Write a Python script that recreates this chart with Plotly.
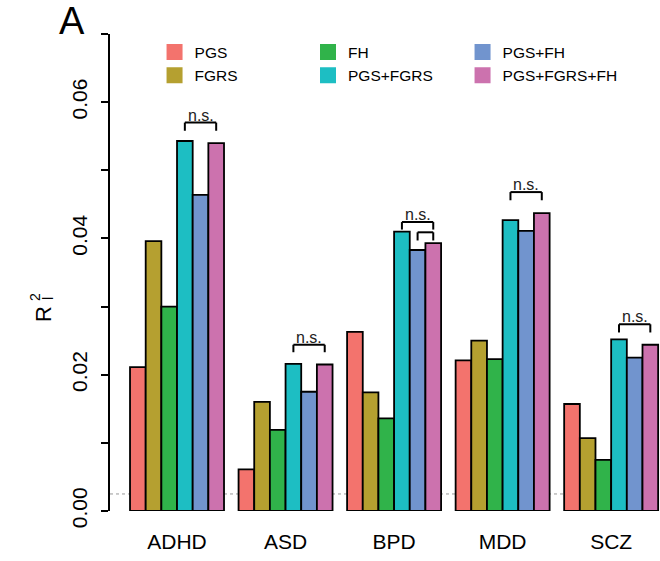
import plotly.graph_objects as go

categories = ["ADHD", "ASD", "BPD", "MDD", "SCZ"]
series_names = ["PGS", "FGRS", "FH", "PGS+FGRS", "PGS+FH", "PGS+FGRS+FH"]
pgs = [0.0211, 0.0061, 0.0263, 0.0221, 0.0157]
fgrs = [0.0396, 0.0160, 0.0174, 0.0250, 0.0107]
fh = [0.0300, 0.0119, 0.0136, 0.0223, 0.0075]
pgs_fgrs = [0.0543, 0.0216, 0.0410, 0.0427, 0.0252]
pgs_fh = [0.0464, 0.0175, 0.0383, 0.0411, 0.0225]
pgs_fgrs_fh = [0.0540, 0.0215, 0.0393, 0.0437, 0.0244]
series_values = [pgs, fgrs, fh, pgs_fgrs, pgs_fh, pgs_fgrs_fh]
colors = ["#F3736D", "#B5A030", "#30B34A", "#1DBEC3", "#7194CE", "#CC72AE"]
legend_column = ["legend", "legend", "legend2", "legend2", "legend3", "legend3"]

# significance brackets
bracket_cat = ["ADHD", "ASD", "BPD", "BPD", "MDD", "SCZ"]
bracket_from = [3, 3, 3, 4, 3, 3]
bracket_to = [5, 5, 5, 5, 5, 5]
bracket_top = [0.0570, 0.0244, 0.0424, 0.0409, 0.0468, 0.0274]
bracket_foot = [0.0558, 0.0233, 0.0413, 0.0397, 0.0456, 0.0262]
bracket_label = ["n.s.", "n.s.", "n.s.", "", "n.s.", "n.s."]

ref_line = 0.0025
y_tickvals = [0.00, 0.01, 0.02, 0.03, 0.04, 0.05, 0.06, 0.07]
y_ticktext = ["0.00", "", "0.02", "", "0.04", "", "0.06", ""]

FONT = "Liberation Sans, Arial, Helvetica, sans-serif"
BARGAP = 0.134
n_series = len(series_names)
bar_w = (1 - BARGAP) / n_series
xpos = list(range(len(categories)))

fig = go.Figure()
for name, vals, col in zip(series_names, series_values, colors):
    fig.add_trace(go.Bar(
        x=xpos, y=vals, name=name, showlegend=False,
        marker=dict(color=col, line=dict(color="black", width=1.8)),
    ))
for name, col, lg in zip(series_names, colors, legend_column):
    fig.add_trace(go.Scatter(
        x=[None], y=[None], mode="markers", name=name, legend=lg,
        marker=dict(symbol="square", size=16, color=col, line=dict(width=0)),
    ))


def bar_center(cat, j):
    return categories.index(cat) - (1 - BARGAP) / 2 + (j + 0.5) * bar_w


shapes = [dict(type="line", xref="paper", yref="y", x0=0, x1=1, y0=ref_line, y1=ref_line,
               line=dict(color="#999999", width=1, dash="dot"), layer="below")]
annotations = []
for cat, a, b, top, foot, lab in zip(bracket_cat, bracket_from, bracket_to,
                                     bracket_top, bracket_foot, bracket_label):
    x0 = bar_center(cat, a)
    x1 = bar_center(cat, b)
    ln = dict(color="black", width=2)
    shapes.append(dict(type="line", xref="x", yref="y", x0=x0, x1=x1, y0=top, y1=top, line=ln))
    shapes.append(dict(type="line", xref="x", yref="y", x0=x0, x1=x0, y0=foot, y1=top, line=ln))
    shapes.append(dict(type="line", xref="x", yref="y", x0=x1, x1=x1, y0=foot, y1=top, line=ln))
    if lab:
        annotations.append(dict(x=(x0 + x1) / 2, y=top, xref="x", yref="y", text=lab,
                                showarrow=False, yanchor="bottom", yshift=-3,
                                font=dict(family=FONT, size=16, color="#222222")))

# panel letter
annotations.append(dict(x=-0.07, y=1.027, xref="paper", yref="paper", text="A",
                        xanchor="center", yanchor="middle",
                        showarrow=False, font=dict(family=FONT, size=38, color="black")))
# y-axis title R^2_l (stacked super/subscript)
annotations.append(dict(x=(43 - 110) / 550, y=(511 - 314) / 477, xref="paper", yref="paper",
                        text="R", textangle=-90, showarrow=False,
                        xanchor="center", yanchor="middle",
                        font=dict(family=FONT, size=22, color="black")))
annotations.append(dict(x=(35 - 110) / 550, y=(511 - 297) / 477, xref="paper", yref="paper",
                        text="2", textangle=-90, showarrow=False,
                        xanchor="center", yanchor="middle",
                        font=dict(family=FONT, size=14, color="black")))
annotations.append(dict(x=(48 - 110) / 550, y=(511 - 299) / 477, xref="paper", yref="paper",
                        text="l", textangle=-90, showarrow=False,
                        xanchor="center", yanchor="middle",
                        font=dict(family=FONT, size=14, color="black")))


def legend_box(xpos_paper):
    return dict(orientation="v", x=xpos_paper, xanchor="left", y=0.997, yanchor="top",
                itemsizing="trace", tracegroupgap=0,
                font=dict(family=FONT, size=15.5, color="black"),
                bgcolor="rgba(0,0,0,0)", traceorder="normal")


fig.update_layout(
    width=660, height=561,
    margin=dict(l=110, r=0, t=34, b=50),
    paper_bgcolor="white", plot_bgcolor="white",
    barmode="group", bargap=BARGAP, bargroupgap=0,
    font=dict(family=FONT, color="black"),
    shapes=shapes, annotations=annotations,
    legend=legend_box(0.081),
    legend2=legend_box(0.36),
    legend3=legend_box(0.641),
    xaxis=dict(range=[-0.6175, 4.45], tickvals=xpos, ticktext=categories,
               showline=False, showgrid=False, zeroline=False, ticks="",
               ticklabelstandoff=16, tickfont=dict(family=FONT, size=21, color="black")),
    yaxis=dict(range=[0, 0.07], tickvals=y_tickvals, ticktext=y_ticktext,
               showline=True, linecolor="black", linewidth=2,
               ticks="outside", ticklen=7, tickwidth=2, tickcolor="black",
               tickangle=-90, ticklabelstandoff=6,
               showgrid=False, zeroline=False,
               tickfont=dict(family=FONT, size=21, color="black")),
)

fig.write_html(
    "out.html",
    config={"displayModeBar": False},
    post_script="document.body.style.margin='0px';document.body.style.overflow='hidden';",
)
